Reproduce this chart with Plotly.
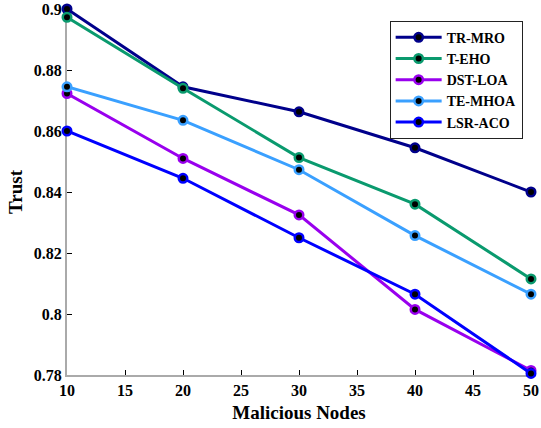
import plotly.graph_objects as go

nodes = [10, 20, 30, 40, 50]
tr_mro = [0.9000, 0.8745, 0.8663, 0.8545, 0.8400]
t_eho = [0.8973, 0.8740, 0.8513, 0.8360, 0.8115]
dst_loa = [0.8723, 0.8510, 0.8325, 0.8015, 0.7815]
te_mhoa = [0.8745, 0.8635, 0.8473, 0.8257, 0.8065]
lsr_aco = [0.8600, 0.8445, 0.8250, 0.8065, 0.7805]

series = [
    ("TR-MRO", tr_mro, "#00008B"),
    ("T-EHO", t_eho, "#0A9A6E"),
    ("DST-LOA", dst_loa, "#9900EE"),
    ("TE-MHOA", te_mhoa, "#3AA0FF"),
    ("LSR-ACO", lsr_aco, "#0000FF"),
]

xticks = [10, 15, 20, 25, 30, 35, 40, 45, 50]
yticks = [0.78, 0.80, 0.82, 0.84, 0.86, 0.88, 0.90]
ytick_labels = ["0.78", "0.8", "0.82", "0.84", "0.86", "0.88", "0.9"]

FONT = "Liberation Serif"

fig = go.Figure()
for name, vals, color in series:
    fig.add_trace(go.Scatter(
        x=nodes, y=vals, name=name, mode="lines+markers",
        line=dict(color=color, width=3),
        marker=dict(symbol="circle", size=8.5, color="black",
                    line=dict(color=color, width=2.5)),
        cliponaxis=False,
    ))

fig.update_layout(
    width=541, height=428,
    margin=dict(l=67, r=10, t=9, b=53, autoexpand=False),
    paper_bgcolor="white", plot_bgcolor="white",
    font=dict(family=FONT, color="black"),
    showlegend=True,
    legend=dict(
        x=0.982, y=0.968, xanchor="right", yanchor="top",
        bgcolor="white", bordercolor="#222222", borderwidth=1,
        font=dict(family=FONT, size=14, color="black", weight="bold"),
        itemwidth=46, tracegroupgap=0,
    ),
    xaxis=dict(
        range=[10, 50], tickvals=xticks, ticks="inside", ticklen=5,
        tickcolor="black", showline=True, linecolor="#AAAAAA", linewidth=2,
        showgrid=False, zeroline=False, layer="below traces", automargin=False,
        tickfont=dict(family=FONT, size=16, color="black", weight="bold"),
        title=dict(text="Malicious Nodes", standoff=7,
                   font=dict(family=FONT, size=19, color="black", weight="bold")),
    ),
    yaxis=dict(
        range=[0.78, 0.90], tickvals=yticks, ticktext=ytick_labels,
        ticks="inside", ticklen=5,
        tickcolor="black", showline=True, linecolor="#AAAAAA", linewidth=2,
        showgrid=False, zeroline=False, layer="below traces", automargin=False,
        tickfont=dict(family=FONT, size=16, color="black", weight="bold"),
        title=dict(text="Trust", standoff=6,
                   font=dict(family=FONT, size=19, color="black", weight="bold")),
    ),
    xaxis2=dict(
        overlaying="x", side="top", range=[10, 50], tickvals=xticks,
        ticks="inside", ticklen=5, tickcolor="black", showticklabels=False,
        showline=True, linecolor="#262626", linewidth=1.2, automargin=False,
        showgrid=False, zeroline=False, layer="below traces",
    ),
    yaxis2=dict(
        overlaying="y", side="right", range=[0.78, 0.90], tickvals=yticks,
        ticks="inside", ticklen=5, tickcolor="black", showticklabels=False,
        showline=True, linecolor="#262626", linewidth=1.2, automargin=False,
        showgrid=False, zeroline=False, layer="below traces",
    ),
)

fig.write_html("out.html", config={"displayModeBar": False},
               post_script="document.body.style.margin='0';")
